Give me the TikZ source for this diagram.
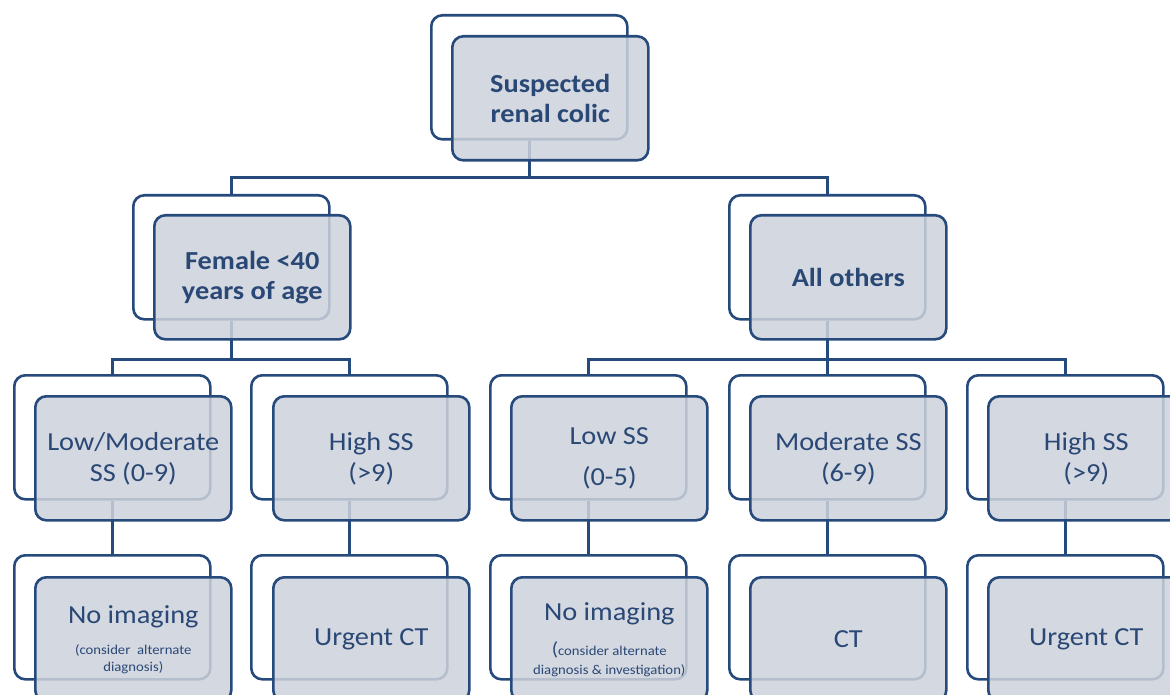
\documentclass[tikz,border=0pt]{standalone}
\usepackage{fontspec}
\setmainfont{Carlito}[FakeStretch=1.09]
\definecolor{bord}{RGB}{38,74,124}
\definecolor{boxfill}{RGB}{205,210,219}
\definecolor{txt}{RGB}{42,72,118}
\tikzset{
  backbox/.style={draw=bord, line width=2.6pt, rounded corners=11pt, fill=white,
    minimum width=196pt, minimum height=124pt, inner sep=0pt, anchor=north west},
  frontbox/.style={draw=bord, line width=2.6pt, rounded corners=11pt, fill=boxfill,
    fill opacity=0.86, text opacity=1, minimum width=196pt, minimum height=124pt,
    inner sep=0pt, anchor=north west, text=txt, align=center,
    font=\fontsize{26}{31}\selectfont},
  boldtxt/.style={font=\fontsize{26}{30}\selectfont\bfseries},
  conn/.style={draw=bord, line width=2.6pt},
}
\newcommand{\smalltxt}{\fontsize{13.5}{16}\selectfont}
\begin{document}
\begin{tikzpicture}[x=1pt,y=-1pt]
\useasboundingbox (0,0) rectangle (1170,695);
\clip (0,0) rectangle (1170,695);
% back frames
\node[backbox] (topB) at (430,14) {};
\node[backbox] (femB) at (132,194) {};
\node[backbox] (allB) at (728,194) {};
\node[backbox] (lmB)  at (13,374) {};
\node[backbox] (hiAB) at (250,374) {};
\node[backbox] (lowB) at (489,374) {};
\node[backbox] (modB) at (728,374) {};
\node[backbox] (hiBB) at (966,374) {};
\node[backbox] (niAB) at (13,554) {};
\node[backbox] (ctAB) at (250,554) {};
\node[backbox] (niBB) at (489,554) {};
\node[backbox] (ctBB) at (728,554) {};
\node[backbox] (ctCB) at (966,554) {};
% connectors
\draw[conn] (topB.south) -- ++(0,37) coordinate (j1);
\draw[conn] (femB.north) |- (j1) -| (allB.north);
\draw[conn] (femB.south) -- ++(0,39) coordinate (j2);
\draw[conn] (lmB.north) |- (j2) -| (hiAB.north);
\draw[conn] (allB.south) -- ++(0,39) coordinate (j3);
\draw[conn] (lowB.north) |- (j3) -| (hiBB.north);
\draw[conn] (modB.north) -- (j3);
\draw[conn] (lmB.south) -- (niAB.north);
\draw[conn] (hiAB.south) -- (ctAB.north);
\draw[conn] (lowB.south) -- (niBB.north);
\draw[conn] (modB.south) -- (ctBB.north);
\draw[conn] (hiBB.south) -- (ctCB.north);
% front boxes
\node[frontbox, boldtxt] (topF) at (451,35) {Suspected\\renal colic};
\node[frontbox, boldtxt] (femF) at (153,214) {Female <40\\years of age};
\node[frontbox, boldtxt] (allF) at (749,214) {All others};
\node[frontbox] (lmF)  at (34,395) {Low/Moderate\\SS (0-9)};
\node[frontbox] (hiAF) at (272,395) {High SS\\(>9)};
\node[frontbox] (lowF) at (510,395) {Low SS\\[10pt](0-5)};
\node[frontbox] (modF) at (749,395) {Moderate SS\\(6-9)};
\node[frontbox] (hiBF) at (987,395) {High SS\\(>9)};
\node[frontbox] (niAF) at (34,576) {No imaging\\\smalltxt (consider \ alternate\\[-14pt]\smalltxt diagnosis)};
\node[frontbox] (ctAF) at (272,576) {Urgent CT};
\node[frontbox] (niBF) at (510,576) {No imaging\\[4pt]{\fontsize{19}{14}\selectfont(}\smalltxt consider alternate\\[-12pt]\smalltxt diagnosis \& investigation)};
\node[frontbox] (ctBF) at (749,576) {CT};
\node[frontbox] (ctCF) at (987,576) {Urgent CT};
\end{tikzpicture}
\end{document}
